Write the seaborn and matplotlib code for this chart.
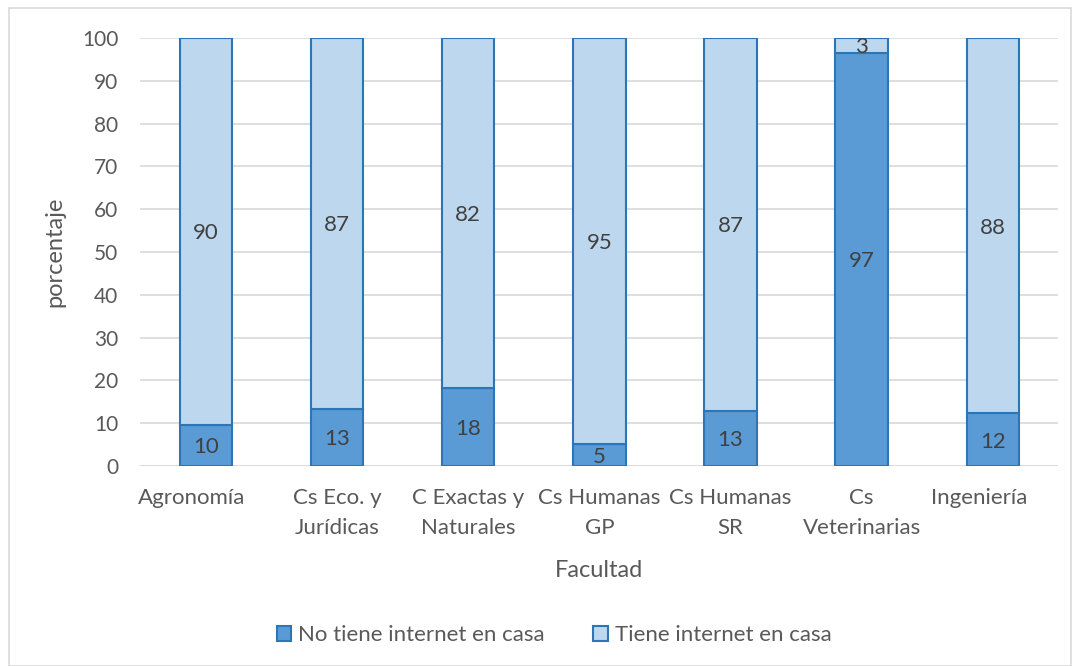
import matplotlib
matplotlib.use("Agg")
import matplotlib.pyplot as plt
import matplotlib.patches as mpatches
import matplotlib.transforms as mtransforms
import seaborn as sns
import pandas as pd

# Datos: porcentaje de estudiantes con / sin internet en casa por facultad
facultades = ["Agronomía", "Cs Eco. y\nJurídicas", "C Exactas y\nNaturales", "Cs Humanas\nGP",
              "Cs Humanas\nSR", "Cs\nVeterinarias", "Ingeniería"]
no_tiene = [9.6, 13.4, 18.2, 5.2, 12.9, 96.6, 12.3]
tiene = [90.4, 86.6, 81.8, 94.8, 87.1, 3.4, 87.7]

df = pd.DataFrame({"Facultad": facultades, "No": no_tiene, "Si": tiene})

sns.set_style("white")
plt.rcParams['font.family'] = ['Lato', 'DejaVu Sans']

color_osc = "#5B9BD5"
color_cla = "#BDD7EE"
borde = "#2E75B6"
gris = "#595959"

fig = plt.figure(figsize=(10.8, 6.66), dpi=100)
ax = fig.add_axes([0.1300, 0.3003, 0.8500, 0.6426])

# Serie inferior
sns.barplot(data=df, x="Facultad", y="No", color=color_osc, edgecolor=borde,
            linewidth=1.5, width=0.4, saturation=1, ax=ax, zorder=3)
# Serie superior apilada
sns.barplot(data=df, x="Facultad", y="Si", bottom=df["No"], color=color_cla, edgecolor=borde,
            linewidth=1.5, width=0.4, saturation=1, ax=ax, zorder=3)

# Etiquetas de valores
for i in range(len(facultades)):
    ax.text(i, no_tiene[i] / 2, f"{no_tiene[i]:.0f}", ha="center", va="center_baseline",
            fontsize=16, color="#404040", zorder=4)
    ax.text(i, no_tiene[i] + tiene[i] / 2, f"{tiene[i]:.0f}", ha="center", va="center_baseline",
            fontsize=16, color="#404040", zorder=4)

ax.set_ylim(0, 100)
ax.set_yticks(range(0, 101, 10))
ax.set_xlim(-0.5, len(facultades) - 0.5)
ax.grid(axis="y", color="#D9D9D9", linewidth=1.2, zorder=0)
ax.set_axisbelow(True)
for s in ax.spines.values():
    s.set_visible(False)
ax.axhline(0, color="#D9D9D9", linewidth=1.2, zorder=1)
ax.tick_params(axis="both", length=0, labelcolor=gris)
ax.tick_params(axis="y", pad=16, labelsize=15)
ax.tick_params(axis="x", pad=16, labelsize=16)
for lbl in ax.get_xticklabels():
    lbl.set_linespacing(1.62)
# etiquetas de una línea algo desplazadas a la izquierda, como en el original
for k in (0, len(facultades) - 1):
    lbl = ax.get_xticklabels()[k]
    lbl.set_transform(lbl.get_transform() + mtransforms.ScaledTranslation(-0.14, 0, fig.dpi_scale_trans))
ax.set_xlabel("Facultad", fontsize=17, color=gris, labelpad=16)
ax.set_ylabel("porcentaje", fontsize=17, color=gris, labelpad=12)

# Leyenda
handles = [mpatches.Patch(facecolor=color_osc, edgecolor=borde, linewidth=1.5, label="No tiene internet en casa"),
           mpatches.Patch(facecolor=color_cla, edgecolor=borde, linewidth=1.5, label="Tiene internet en casa")]
fig.legend(handles=handles, loc="center", bbox_to_anchor=(0.513, 0.046), ncol=2, frameon=False,
           fontsize=16, labelcolor=gris, handlelength=0.65, handleheight=0.65, handletextpad=0.3,
           columnspacing=2.2)

# Borde del gráfico
fig.patches.append(mpatches.Rectangle((0.008, 0.0), 0.984, 0.988, transform=fig.transFigure,
                                      fill=False, edgecolor="#D9D9D9", linewidth=1.2))

fig.savefig("out.png", dpi=100)
